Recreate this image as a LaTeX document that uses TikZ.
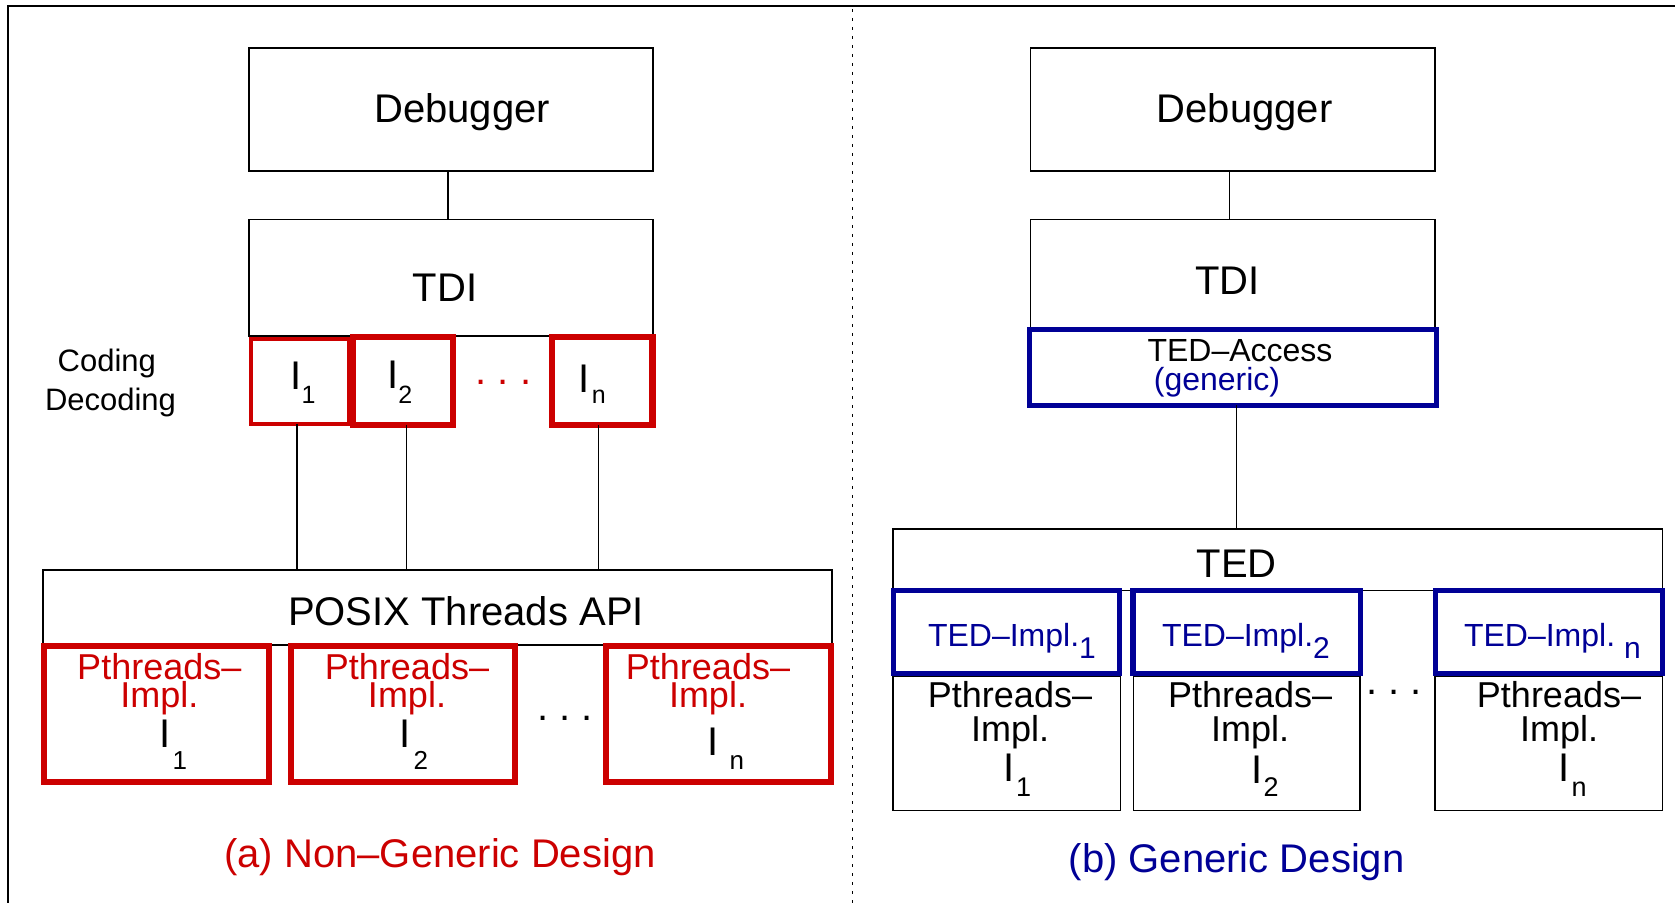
\documentclass[tikz,border=0pt]{standalone}
\usepackage{fontspec}
\setmainfont{Liberation Sans}
\definecolor{ared}{RGB}{204,0,0}
\definecolor{bblue}{RGB}{0,0,150}
% font sizes
\newcommand\fbig{\fontsize{20pt}{24pt}\selectfont}
\newcommand\fmid{\fontsize{18pt}{20pt}\selectfont}
\newcommand\fsml{\fontsize{16pt}{18pt}\selectfont}
\newcommand\fcd{\fontsize{15.5pt}{18pt}\selectfont}
% I with a lowered index: #1 index, #2 index size, #3 drop, #4 kern
\newcommand\Isub[4]{I\kern#4\raisebox{-#3}{\fontsize{#2}{#2}\selectfont #1}}
% two centred lines at a fixed baseline distance; the box sits on the last line
\newcommand\twolines[3]{\vbox{\baselineskip=#3\lineskiplimit=-30pt\lineskip=0pt
  \halign{\hfil##\hfil\cr #1\cr #2\cr}}}
\begin{document}
\begin{tikzpicture}[x=0.5pt,y=-0.5pt,
  box/.style={draw=black,line width=0.7pt,inner sep=0pt,outer sep=0pt},
  redbox/.style={draw=ared,line width=3pt,inner sep=0pt,outer sep=0pt},
  bluebox/.style={draw=bblue,line width=2.6pt,inner sep=0pt,outer sep=0pt},
  lbl/.style={inner sep=0pt,outer sep=0pt,anchor=base},
  lblw/.style={inner sep=0pt,outer sep=0pt,anchor=base west},
  tight/.style={text height=10pt,text depth=0pt},
  wire/.style={line width=0.6pt},
  divider/.style={line width=0.5pt,dash pattern=on 1.3pt off 3.2pt}]
\useasboundingbox (0,0) rectangle (1675,903);

% outer frame and the dotted separator
\draw[line width=0.7pt] (8,903) -- (8,6) -- (1675,6);
\draw[divider] (852,9) -- (852,903);

% ---------------- (a) non-generic design ----------------
\node[box,minimum width=202pt,minimum height=61.5pt] (dbgL) at (451,109.5) {};
\node[box,minimum width=202pt,minimum height=58.25pt] (tdiL) at (451,277.75) {};
\node[box,minimum width=394.5pt,minimum height=37.5pt] (posix) at (437.5,607.5) {};

\draw[wire] ([xshift=-1.5pt]dbgL.south) -- ([xshift=-1.5pt]tdiL.north);

\node[redbox,line width=2.2pt,minimum width=49pt,minimum height=42.3pt] (iL1) at (299.75,381.5) {};
\node[redbox,line width=3.2pt,minimum width=49.8pt,minimum height=43.8pt] (iL2) at (403,381) {};
\node[redbox,line width=3.2pt,minimum width=50.3pt,minimum height=43.8pt] (iLn) at (602,381) {};

\draw[wire] ([xshift=-1.4pt]iL1.south) -- ([xshift=-1.4pt]iL1.south |- posix.north);
\draw[wire] ([xshift=1.75pt]iL2.south) -- ([xshift=1.75pt]iL2.south |- posix.north);
\draw[wire] ([xshift=-1.75pt]iLn.south) -- ([xshift=-1.75pt]iLn.south |- posix.north);

\node[redbox,minimum width=112.25pt,minimum height=68pt] (pL1) at (156.25,714) {};
\node[redbox,minimum width=112pt,minimum height=68pt] (pL2) at (403,714) {};
\node[redbox,minimum width=112.5pt,minimum height=68pt] (pLn) at (718.5,714) {};

\node[lbl,font=\fbig] (tDbgL) at (462,122.7) {Debugger};
\node[lbl,font=\fbig] (tTdiL) at (445,301.7) {TDI};
\node[lbl,font=\fcd] (tCod) at (106.8,371.7) {Coding};
\node[lbl,font=\fcd] (tDec) at (110.5,410) {Decoding};

\node[lblw,font=\fbig] (tI1) at (290.4,390) {\Isub{1}{12.5pt}{7pt}{0pt}};
\node[lblw,font=\fbig] (tI2) at (387.2,388) {\Isub{2}{12.5pt}{8pt}{0pt}};
\node[lblw,font=\fbig] (tIn) at (578.4,393) {\Isub{n}{12.5pt}{5.5pt}{1.2pt}};
\node[lbl,font=\fbig,text=ared] (dotsI) at (503.5,385) {.\ .\ .};

\node[lbl,font=\fbig] (tPosix) at (466,625) {POSIX Threads API};

\node[lbl,font=\fmid,text=ared] (tPL1) at (159.3,707) {\twolines{Pthreads\textendash}{Impl.}{14pt}};
\node[lblw,font=\fbig] (tPL1c) at (159,747) {\Isub{1}{13pt}{11pt}{1.3pt}};
\node[lbl,font=\fmid,text=ared] (tPL2) at (407,707) {\twolines{Pthreads\textendash}{Impl.}{14pt}};
\node[lblw,font=\fbig] (tPL2c) at (399.4,747) {\Isub{2}{13pt}{11pt}{1.5pt}};
\node[lbl,font=\fmid,text=ared] (tPLn) at (708,707) {\twolines{Pthreads\textendash}{Impl.}{14pt}};
\node[lblw,font=\fbig] (tPLnc) at (707.4,755) {\Isub{n}{13pt}{7pt}{5.5pt}};
\node[lbl,font=\fbig] (dotsPL) at (565,720) {.\ .\ .};

\node[lbl,font=\fbig,text=ared] (capA) at (440,867) {(a) Non\textendash Generic Design};

% ---------------- (b) generic design ----------------
\node[box,minimum width=202.2pt,minimum height=61.5pt] (dbgR) at (1232.8,109.5) {};
\node[box,minimum width=202.2pt,minimum height=55.25pt] (tdiR) at (1232.8,274.75) {};
\node[box,minimum width=384.85pt,minimum height=30.85pt] (ted) at (1277.85,559.85) {};
\node[box,minimum width=113.8pt,minimum height=67.35pt] (pR1) at (1006.8,743.35) {};
\node[box,minimum width=113.3pt,minimum height=67.35pt] (pR2) at (1246.7,743.35) {};
\node[box,minimum width=113.85pt,minimum height=67.35pt] (pRn) at (1548.85,743.35) {};

\draw[wire] ([xshift=-1.5pt]dbgR.south) -- ([xshift=-1.5pt]tdiR.north);

\node[bluebox,minimum width=203.5pt,minimum height=38pt] (access) at (1233,367.5) {};
\draw[wire] ([xshift=1.85pt]access.south) -- ([xshift=1.85pt]access.south |- ted.north);

\node[bluebox,line width=2.75pt,minimum width=112.95pt,minimum height=41.4pt] (ti1) at (1006.3,631.85) {};
\node[bluebox,line width=2.75pt,minimum width=113.95pt,minimum height=41.4pt] (ti2) at (1246.7,631.85) {};
\node[bluebox,line width=2.75pt,minimum width=113.45pt,minimum height=41.4pt] (tin) at (1548.8,631.85) {};

\node[lbl,font=\fbig] (tDbgR) at (1244.7,122.7) {Debugger};
\node[lbl,font=\fbig] (tTdiR) at (1227.6,295) {TDI};
\node[lbl,font=\fsml,tight] (tAcc) at (1240,362) {TED\textendash Access};
\node[lbl,font=\fsml,text=bblue,tight] (tGen) at (1217,391) {(generic)};
\node[lbl,font=\fbig] (tTed) at (1236.7,577) {TED};

\node[lblw,font=\fsml,text=bblue] (tTi1) at (928,646.7) {TED\textendash Impl.\raisebox{-6pt}{\fontsize{15pt}{15pt}\selectfont 1}};
\node[lblw,font=\fsml,text=bblue] (tTi2) at (1162,646.7) {TED\textendash Impl.\raisebox{-6pt}{\fontsize{15pt}{15pt}\selectfont 2}};
\node[lblw,font=\fsml,text=bblue] (tTin) at (1464,646.7) {TED\textendash Impl.\ \raisebox{-6pt}{\fontsize{15pt}{15pt}\selectfont n}};

\node[lbl,font=\fmid] (tPR1) at (1010,741) {\twolines{Pthreads\textendash}{Impl.}{16.65pt}};
\node[lblw,font=\fbig] (tPR1c) at (1003.4,781.7) {\Isub{1}{13.5pt}{7.2pt}{0.8pt}};
\node[lbl,font=\fmid] (tPR2) at (1250.2,741) {\twolines{Pthreads\textendash}{Impl.}{16.65pt}};
\node[lblw,font=\fbig] (tPR2c) at (1251.4,783) {\Isub{2}{13.5pt}{6.9pt}{0.6pt}};
\node[lbl,font=\fmid] (tPRn) at (1559,741) {\twolines{Pthreads\textendash}{Impl.}{16.65pt}};
\node[lblw,font=\fbig] (tPRnc) at (1558.4,781.7) {\Isub{n}{13.5pt}{7.2pt}{1pt}};
\node[lbl,font=\fbig] (dotsPR) at (1394,694) {.\ .\ .};

\node[lbl,font=\fbig,text=bblue] (capB) at (1236.6,872) {(b) Generic Design};
\end{tikzpicture}
\end{document}
